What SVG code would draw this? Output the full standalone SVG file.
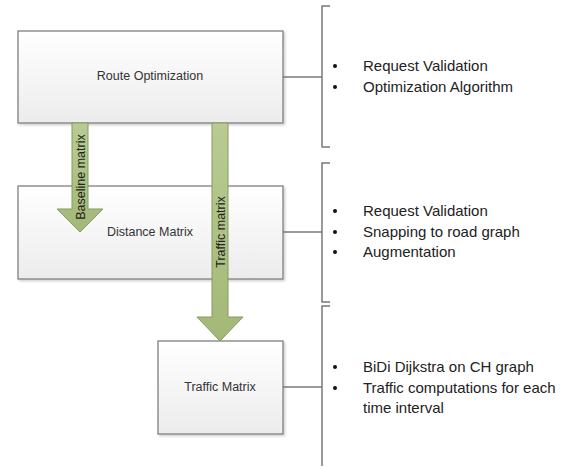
<svg xmlns="http://www.w3.org/2000/svg" width="579" height="469" viewBox="0 0 579 469">
<defs>
<linearGradient id="boxg" x1="0" y1="0" x2="0" y2="1">
<stop offset="0" stop-color="#ffffff"/>
<stop offset="1" stop-color="#ececec"/>
</linearGradient>
<linearGradient id="arrg" x1="0" y1="0" x2="0" y2="1">
<stop offset="0" stop-color="#b9cb93"/>
<stop offset="1" stop-color="#a3b877"/>
</linearGradient>
<filter id="sh" x="-5%" y="-5%" width="115%" height="115%">
<feDropShadow dx="1.5" dy="1.5" stdDeviation="1" flood-color="#000" flood-opacity="0.2"/>
</filter>
</defs>
<style>
.box{fill:url(#boxg);stroke:#808080;stroke-width:1.3}
.lbl{font-family:"Liberation Sans",Arial,sans-serif;font-size:12.5px;fill:#333;text-anchor:middle}
.arr{fill:url(#arrg);stroke:#869a5e;stroke-width:1}
.alb{font-family:"Liberation Sans",Arial,sans-serif;font-size:12.5px;fill:#222;text-anchor:middle}
.br{fill:none;stroke:#7a7a7a;stroke-width:1.5}
.ln{fill:none;stroke:#7a7a7a;stroke-width:1.3}
.tx{font-family:"Liberation Sans",Arial,sans-serif;font-size:15px;fill:#222}
.bul{fill:#111}
</style>
<rect width="579" height="469" fill="#fff"/>
<g id="route-optimization">
<rect class="box" x="18" y="31" width="265" height="92" filter="url(#sh)"/>
<text class="lbl" x="150" y="80">Route Optimization</text>
</g>
<g id="distance-matrix">
<rect class="box" x="18" y="186" width="265" height="93" filter="url(#sh)"/>
<text class="lbl" x="150" y="236">Distance Matrix</text>
</g>
<g id="traffic-matrix">
<rect class="box" x="158" y="341" width="125" height="93" filter="url(#sh)"/>
<text class="lbl" x="220" y="391">Traffic Matrix</text>
</g>
<g id="connectors">
<g id="baseline-arrow">
<path class="arr" d="M72,123 L88,123 L88,209 L103,209 L80,232 L57,209 L72,209 Z"/>
<text class="alb" transform="translate(84.5,177) rotate(-90)">Baseline matrix</text>
</g>
<g id="traffic-arrow">
<path class="arr" d="M212,123 L228,123 L228,317 L243,317 L220,341 L197,317 L212,317 Z"/>
<text class="alb" transform="translate(224.5,232) rotate(-90)">Traffic matrix</text>
</g>
<path class="ln" d="M283,77 L322,77"/>
<path class="ln" d="M283,232 L322,232"/>
<path class="ln" d="M283,387 L322,387"/>
</g>
<g id="bracket-1">
<path class="br" d="M330,6 L322,6 L322,147 L330,147"/>
<circle class="bul" cx="335" cy="66" r="2"/>
<circle class="bul" cx="335" cy="87" r="2"/>
<text class="tx" x="363" y="71">Request Validation</text>
<text class="tx" x="363" y="92">Optimization Algorithm</text>
</g>
<g id="bracket-2">
<path class="br" d="M330,163 L322,163 L322,302 L330,302"/>
<circle class="bul" cx="335" cy="211" r="2"/>
<circle class="bul" cx="335" cy="232" r="2"/>
<circle class="bul" cx="335" cy="252" r="2"/>
<text class="tx" x="363" y="216">Request Validation</text>
<text class="tx" x="363" y="237">Snapping to road graph</text>
<text class="tx" x="363" y="257">Augmentation</text>
</g>
<g id="bracket-3">
<path class="br" d="M330,306 L322,306 L322,466"/>
<circle class="bul" cx="335" cy="367" r="2"/>
<circle class="bul" cx="335" cy="388" r="2"/>
<text class="tx" x="363" y="372">BiDi Dijkstra on CH graph</text>
<text class="tx" x="363" y="393">Traffic computations for each</text>
<text class="tx" x="363" y="413">time interval</text>
</g>
</svg>
